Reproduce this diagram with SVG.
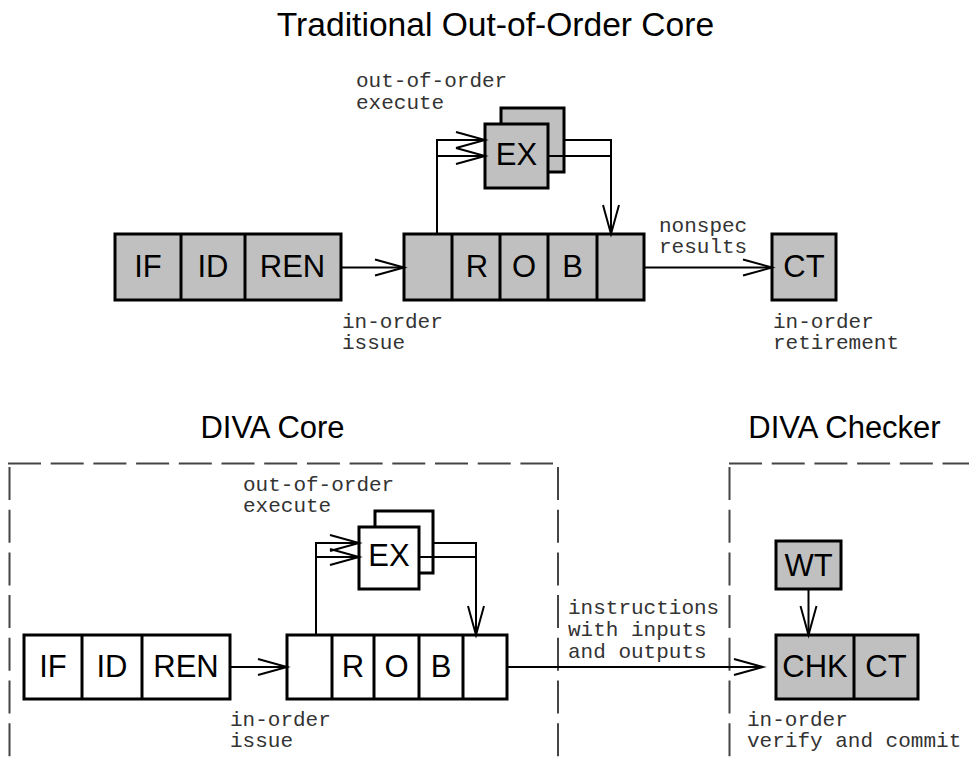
<svg xmlns="http://www.w3.org/2000/svg" width="969" height="761" viewBox="0 0 969 761">
<style>
.box{fill:#c0c0c0;stroke:#000;stroke-width:3}
.wbox{fill:#fff;stroke:#000;stroke-width:3}
.div{stroke:#000;stroke-width:3}
.lbl{font-family:"Liberation Sans",Arial,sans-serif;font-size:31px;fill:#000;text-anchor:middle}
.title{font-family:"Liberation Sans",Arial,sans-serif;font-size:31px;fill:#000;text-anchor:middle}
.note{font-family:"Liberation Mono","Courier New",monospace;font-size:21px;fill:#333}
.con{fill:none;stroke:#000;stroke-width:2}
.arr{marker-end:url(#ah)}
.dash{fill:none;stroke:#444;stroke-width:2;stroke-dasharray:33 9.7}
</style>
<defs>
<marker id="ah" markerUnits="userSpaceOnUse" markerWidth="40" markerHeight="24" viewBox="-32 -12 36 24" refX="0" refY="0" orient="auto" overflow="visible">
<path d="M-29,-8 L0,0 L-29,8" fill="none" stroke="#000" stroke-width="2"/>
</marker>
</defs>
<rect width="969" height="761" fill="#fff"/>

<text class="title" x="495.5" y="36" style="font-size:33.6px">Traditional Out-of-Order Core</text>
<text class="title" x="272.5" y="438">DIVA Core</text>
<text class="title" x="844.5" y="438">DIVA Checker</text>

<!-- dashed regions -->
<g id="diva-core-region">
<line class="dash" x1="8" y1="463.5" x2="553" y2="463.5"/>
<line class="dash" x1="9.5" y1="467" x2="9.5" y2="761"/>
<line class="dash" x1="558" y1="467" x2="558" y2="761"/>
</g>
<g id="diva-checker-region">
<line class="dash" x1="729" y1="463.5" x2="969" y2="463.5"/>
<line class="dash" x1="729.5" y1="467" x2="729.5" y2="761"/>
</g>

<!-- top diagram -->
<g id="t-front">
<rect class="box" x="115" y="234" width="226" height="66"/>
<line class="div" x1="181" y1="234" x2="181" y2="300"/>
<line class="div" x1="245" y1="234" x2="245" y2="300"/>
<text class="lbl" x="148" y="277">IF</text>
<text class="lbl" x="213" y="277">ID</text>
<text class="lbl" x="292.5" y="277">REN</text>
</g>
<g id="t-rob">
<rect class="box" x="404" y="234" width="240" height="66"/>
<line class="div" x1="452" y1="234" x2="452" y2="300"/>
<line class="div" x1="500" y1="234" x2="500" y2="300"/>
<line class="div" x1="548" y1="234" x2="548" y2="300"/>
<line class="div" x1="597" y1="234" x2="597" y2="300"/>
<text class="lbl" x="477" y="277">R</text>
<text class="lbl" x="524" y="277">O</text>
<text class="lbl" x="572.5" y="277">B</text>
</g>
<g id="t-ex">
<rect class="box" x="501" y="108" width="63" height="64"/>
<rect class="box" x="485" y="124" width="63" height="64"/>
<text class="lbl" x="516.5" y="165">EX</text>
</g>
<g id="t-ct">
<rect class="box" x="772" y="234" width="64" height="66"/>
<text class="lbl" x="804" y="277">CT</text>
</g>

<!-- bottom diagram -->
<g id="b-front">
<rect class="wbox" x="24" y="635" width="206" height="64"/>
<line class="div" x1="82" y1="635" x2="82" y2="699"/>
<line class="div" x1="142" y1="635" x2="142" y2="699"/>
<text class="lbl" x="53" y="677">IF</text>
<text class="lbl" x="112" y="677">ID</text>
<text class="lbl" x="186" y="677">REN</text>
</g>
<g id="b-rob">
<rect class="wbox" x="287" y="635" width="220" height="64"/>
<line class="div" x1="332" y1="635" x2="332" y2="699"/>
<line class="div" x1="374" y1="635" x2="374" y2="699"/>
<line class="div" x1="419" y1="635" x2="419" y2="699"/>
<line class="div" x1="463" y1="635" x2="463" y2="699"/>
<text class="lbl" x="353" y="677">R</text>
<text class="lbl" x="396.5" y="677">O</text>
<text class="lbl" x="441" y="677">B</text>
</g>
<g id="b-ex">
<rect class="wbox" x="375" y="511" width="58" height="62"/>
<rect class="wbox" x="359" y="527" width="60" height="62"/>
<text class="lbl" x="389" y="566">EX</text>
</g>
<g id="b-wt">
<rect class="box" x="776" y="541" width="65" height="48"/>
<text class="lbl" x="808.5" y="576">WT</text>
</g>
<g id="b-chk">
<rect class="box" x="776" y="635" width="142" height="64"/>
<line class="div" x1="854" y1="635" x2="854" y2="699"/>
<text class="lbl" x="815" y="677">CHK</text>
<text class="lbl" x="886" y="677">CT</text>
</g>

<!-- connectors -->
<g id="connectors">
<line class="con arr" x1="341" y1="267.5" x2="404" y2="267.5"/>
<polyline class="con arr" points="437,234 437,140 485,140"/>
<line class="con arr" x1="437" y1="156" x2="485" y2="156"/>
<polyline class="con arr" points="564,140 611,140 611,234"/>
<line class="con" x1="548" y1="156" x2="611" y2="156"/>
<line class="con arr" x1="644" y1="267.5" x2="772" y2="267.5"/>

<line class="con arr" x1="231" y1="667" x2="287" y2="667"/>
<polyline class="con arr" points="316,635 316,543 359,543"/>
<line class="con arr" x1="316" y1="557" x2="359" y2="557"/>
<polyline class="con arr" points="433,543 476,543 476,635"/>
<line class="con" x1="419" y1="557" x2="476" y2="557"/>
<line class="con arr" x1="507" y1="667" x2="763" y2="667"/>
<line class="con arr" x1="808.5" y1="589" x2="808.5" y2="635"/>
</g>

<!-- notes -->
<g id="notes">
<text class="note" x="356" y="87">out-of-order</text>
<text class="note" x="356" y="109">execute</text>
<text class="note" x="342" y="328">in-order</text>
<text class="note" x="342" y="349">issue</text>
<text class="note" x="659" y="231.5">nonspec</text>
<text class="note" x="659" y="252.5">results</text>
<text class="note" x="773" y="328">in-order</text>
<text class="note" x="773" y="349">retirement</text>

<text class="note" x="243" y="491">out-of-order</text>
<text class="note" x="243" y="512">execute</text>
<text class="note" x="230" y="726">in-order</text>
<text class="note" x="230" y="747">issue</text>
<text class="note" x="568" y="614">instructions</text>
<text class="note" x="568" y="636">with inputs</text>
<text class="note" x="568" y="658">and outputs</text>
<text class="note" x="747" y="726">in-order</text>
<text class="note" x="747" y="747">verify and commit</text>
</g>
</svg>
